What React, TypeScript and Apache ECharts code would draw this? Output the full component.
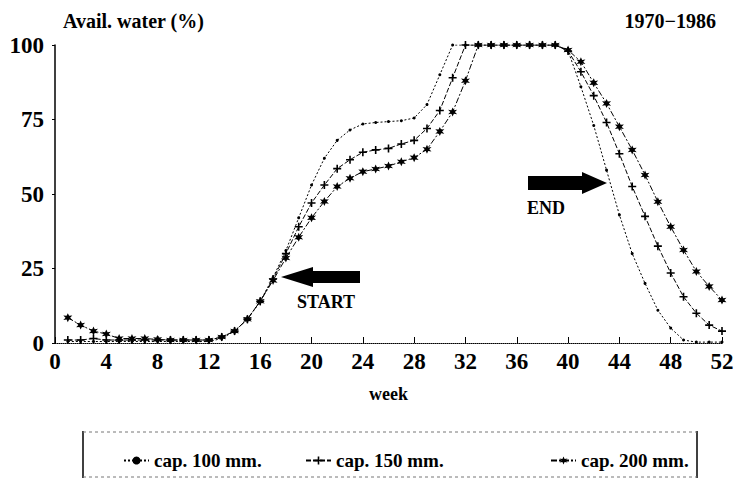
import React, { useEffect, useRef } from "react";
import * as echarts from "echarts";

const weeks: number[] = Array.from({ length: 52 }, (_, i) => i + 1);

const cap100: number[] = [
  0.5, 0.5, 0.5, 0.5, 0.5, 0.5, 0.5, 0.5, 0.5, 0.5, 0.5, 0.5, 1.5, 4, 8, 14,
  22, 31, 42, 53, 62, 68, 71.5, 73.5, 74, 74.3, 74.6, 75.5, 80, 90, 100, 100,
  100, 100, 100, 100, 100, 100, 100, 98, 86, 73, 58, 43, 30, 20, 11, 5, 1, 0.3,
  0.3, 0.3,
];

const cap150: number[] = [
  1, 1, 1.5, 1, 1, 1, 1, 1, 1, 1, 1, 1, 2, 4, 8, 14,
  21.5, 30, 39, 47, 53, 58.5, 61.5, 64, 64.8, 65.3, 66.8, 68, 72, 78, 89, 100,
  100, 100, 100, 100, 100, 100, 100, 98, 91, 83, 74, 63.5, 52.5, 42.5, 32.5, 23.5, 15.5, 10,
  6, 4,
];

const cap200: number[] = [
  8.5, 6, 4, 3, 1.5, 1.5, 1.5, 1.2, 1, 1, 1, 1, 2, 4, 8, 14,
  21, 28.5, 35.5, 42, 47.5, 52.5, 55.3, 57.5, 58.4, 59.4, 60.8, 62.2, 65, 71, 77.5, 88,
  100, 100, 100, 100, 100, 100, 100, 98.3, 94.4, 87.3, 80.4, 72.6, 64.8, 56.4, 47.4, 39, 31.2, 24,
  19, 14.4,
];

const seriesNames: string[] = ["cap. 100 mm.", "cap. 150 mm.", "cap. 200 mm."];

const FONT = "Liberation Serif";
const PLUS = "path://M4,0H6V4H10V6H6V10H4V6H0V4H4Z";
const STAR =
  "path://M5,0L6.2,3L9.3,2.5L7.2,5L9.3,7.5L6.2,7L5,10L3.8,7L0.7,7.5L2.8,5L0.7,2.5L3.8,3Z";

export default function App() {
  const ref = useRef<HTMLDivElement>(null);
  useEffect(() => {
    if (!ref.current) return;
    const chart = echarts.init(ref.current, undefined, { renderer: "svg" });
    const pairs = (vals: number[]) => weeks.map((w, i) => [w, vals[i]]);
    const legendText = {
      fontFamily: FONT,
      fontWeight: "bold" as const,
      fontSize: 19,
      color: "#000",
    };
    chart.setOption({
      animation: false,
      backgroundColor: "#fff",
      title: [
        {
          text: "Avail. water (%)",
          left: 58,
          top: 6,
          textStyle: { fontFamily: FONT, fontWeight: "bold", fontSize: 20, color: "#000" },
        },
        {
          text: "1970\u22121986",
          right: 17,
          top: 6,
          textStyle: { fontFamily: FONT, fontWeight: "bold", fontSize: 20, color: "#000" },
        },
      ],
      grid: { left: 55, right: 16, top: 45, bottom: 136 },
      xAxis: {
        type: "value",
        min: 0,
        max: 52,
        interval: 4,
        name: "week",
        nameLocation: "middle",
        nameGap: 42,
        nameTextStyle: { fontFamily: FONT, fontWeight: "bold", fontSize: 18, color: "#000" },
        axisLine: { lineStyle: { color: "#000", type: "dotted", width: 1 } },
        axisTick: { inside: true, length: 6, lineStyle: { color: "#000" } },
        axisLabel: {
          fontFamily: FONT,
          fontWeight: "bold",
          fontSize: 23,
          color: "#000",
          margin: 7,
        },
        splitLine: { show: false },
      },
      yAxis: {
        type: "value",
        min: 0,
        max: 100,
        interval: 25,
        axisLine: { show: true, lineStyle: { color: "#000", width: 1.5 } },
        axisTick: { show: true, length: 3, lineStyle: { color: "#000" } },
        axisLabel: {
          fontFamily: FONT,
          fontWeight: "bold",
          fontSize: 23,
          color: "#000",
          margin: 11,
        },
        splitLine: { show: false },
      },
      legend: [
        {
          data: [seriesNames[0]],
          left: 118,
          top: 446,
          itemWidth: 25,
          itemHeight: 10,
          textStyle: legendText,
        },
        {
          data: [seriesNames[1]],
          left: 300,
          top: 446,
          itemWidth: 25,
          itemHeight: 10,
          textStyle: legendText,
        },
        {
          data: [seriesNames[2]],
          left: 545,
          top: 446,
          itemWidth: 25,
          itemHeight: 10,
          textStyle: legendText,
        },
      ],
      series: [
        {
          name: seriesNames[0],
          type: "line",
          data: pairs(cap100),
          symbol: "circle",
          symbolSize: 3,
          itemStyle: { color: "#000" },
          lineStyle: { color: "#000", width: 1, type: [2, 2] },
        },
        {
          name: seriesNames[1],
          type: "line",
          data: pairs(cap150),
          symbol: PLUS,
          symbolSize: 8,
          itemStyle: { color: "#000" },
          lineStyle: { color: "#000", width: 1, type: [5, 2] },
        },
        {
          name: seriesNames[2],
          type: "line",
          data: pairs(cap200),
          symbol: STAR,
          symbolSize: 9,
          itemStyle: { color: "#000" },
          lineStyle: { color: "#000", width: 1, type: [6, 2, 2, 2] },
        },
      ],
      graphic: [
        {
          type: "polygon",
          shape: {
            points: [
              [281, 277],
              [313, 267],
              [313, 271],
              [360, 271],
              [360, 283],
              [313, 283],
              [313, 287],
            ],
          },
          style: { fill: "#000" },
        },
        {
          type: "text",
          left: 297,
          top: 293,
          style: { text: "START", fontFamily: FONT, fontWeight: "bold", fontSize: 18, fill: "#000" },
        },
        {
          type: "polygon",
          shape: {
            points: [
              [528, 176],
              [582, 176],
              [582, 172],
              [607, 183],
              [582, 194],
              [582, 190],
              [528, 190],
            ],
          },
          style: { fill: "#000" },
        },
        {
          type: "text",
          left: 527,
          top: 199,
          style: { text: "END", fontFamily: FONT, fontWeight: "bold", fontSize: 18, fill: "#000" },
        },
        {
          type: "line",
          shape: { x1: 83, y1: 431, x2: 83, y2: 478 },
          style: { stroke: "#000", lineWidth: 1.5 },
        },
        {
          type: "line",
          shape: { x1: 697, y1: 431, x2: 697, y2: 478 },
          style: { stroke: "#000", lineWidth: 1.5 },
        },
        {
          type: "line",
          shape: { x1: 83, y1: 432, x2: 697, y2: 432 },
          style: { stroke: "#777", lineWidth: 1, lineDash: [3, 3] },
        },
        {
          type: "line",
          shape: { x1: 83, y1: 477, x2: 697, y2: 477 },
          style: { stroke: "#777", lineWidth: 1, lineDash: [3, 3] },
        },
      ],
    });
    return () => chart.dispose();
  }, []);
  return (
    <div
      ref={ref}
      style={{ position: "fixed", left: 0, top: 0, width: 738, height: 479 }}
    />
  );
}
